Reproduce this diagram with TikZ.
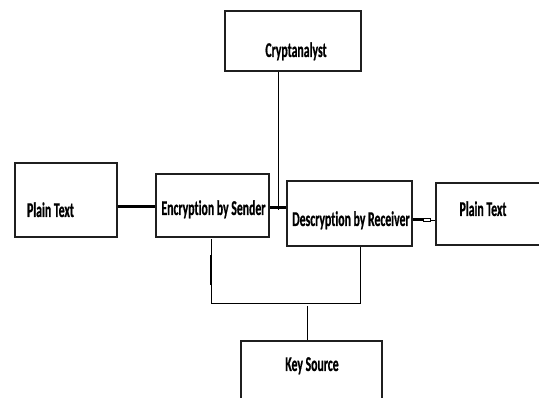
\documentclass[tikz,border=0pt]{standalone}
\usepackage{fontspec}
\newfontfamily\boxfont[FakeStretch=0.56, Ligatures=NoCommon, FakeBold=0.6]{Carlito}
\usetikzlibrary{calc}
\begin{document}
\begin{tikzpicture}[x=1pt,y=-1pt,
  blk/.style={draw=black!88, line width=1.5pt, inner sep=0pt},
  lbl/.style={font=\boxfont\bfseries\fontsize{21}{24}\selectfont, inner sep=0pt, anchor=base},
  heavy/.style={line width=3pt},
  wire/.style={line width=0.9pt},
  hair/.style={line width=0.9pt}]
\useasboundingbox (0,0) rectangle (539,398);

% boxes
\node[blk, minimum width=102pt, minimum height=74pt] (plainA) at (66,200) {};
\node[blk, minimum width=113pt, minimum height=63pt] (enc) at (212.5,205.5) {};
\node[blk, minimum width=136pt, minimum height=60pt] (crypt) at (293,41) {};
\node[blk, minimum width=125pt, minimum height=65pt] (dec) at (349.5,213.5) {};
\node[blk, minimum width=130pt, minimum height=62pt] (plainB) at (501,214) {};
\node[blk, minimum width=141pt, minimum height=79pt] (key) at (311.5,380.5) {};

% labels
\node[lbl] (tPlainA) at (50.5,217) {Plain Text};
\node[lbl] (tEnc) at (213.5,215) {Encryption by Sender};
\node[lbl] (tCrypt) at (296,57) {Cryptanalyst};
\node[lbl] (tDec) at (351,226) {Descryption by Receiver};
\node[lbl] (tPlainB) at (483,216) {Plain Text};
\node[lbl] (tKey) at (312,371) {Key Source};

% main channel
\draw[heavy] (plainA.east |- 0,207) -- (enc.west |- 0,207);
\draw[heavy] (enc.east |- 0,208) -- (dec.west |- 0,208);
\coordinate (tap) at (278,210);
\draw[hair] (crypt.south -| tap) -- (tap);

% receiver output with small joint
\node[draw, line width=0.8pt, fill=white, minimum width=7pt, minimum height=3.5pt, inner sep=0pt] (joint) at (426.5,220) {};
\draw[heavy] (dec.east |- joint) -- (joint.west);
\draw[hair] (joint.east) -- (plainB.west |- joint);

% key distribution
\coordinate (encdrop) at (211,239);
\coordinate (busL) at (211,303);
\coordinate (busR) at (360,303);
\coordinate (busM) at (307,306);
\draw[wire] (encdrop) -- (busL) -- (busR) -- (busR |- dec.south);
\draw[line width=2pt] (211,255) -- (211,285);
\draw[wire] (busM) -- (busM |- key.north);
\end{tikzpicture}
\end{document}
